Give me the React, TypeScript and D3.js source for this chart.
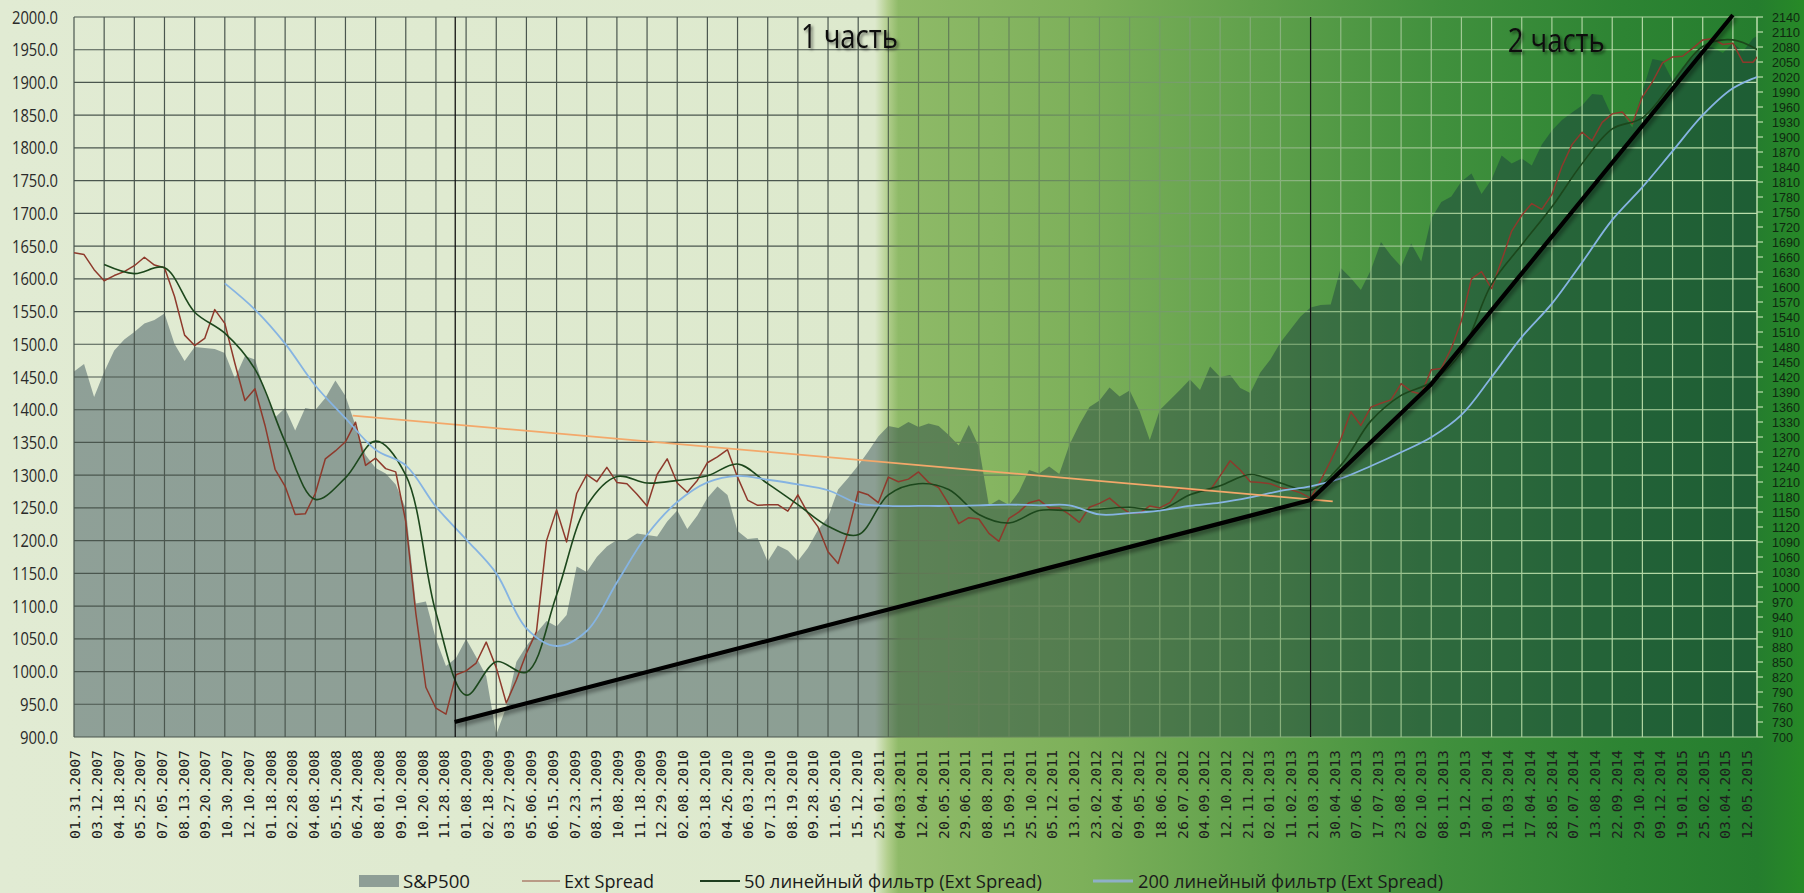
import React from "react";
import * as d3 from "d3";

const X_LABELS = ["01.31.2007","03.12.2007","04.18.2007","05.25.2007","07.05.2007","08.13.2007","09.20.2007","10.30.2007","12.10.2007","01.18.2008","02.28.2008","04.08.2008","05.15.2008","06.24.2008","08.01.2008","09.10.2008","10.20.2008","11.28.2008","01.08.2009","02.18.2009","03.27.2009","05.06.2009","06.15.2009","07.23.2009","08.31.2009","10.08.2009","11.18.2009","12.29.2009","02.08.2010","03.18.2010","04.26.2010","06.03.2010","07.13.2010","08.19.2010","09.28.2010","11.05.2010","15.12.2010","25.01.2011","04.03.2011","12.04.2011","20.05.2011","29.06.2011","08.08.2011","15.09.2011","25.10.2011","05.12.2011","13.01.2012","23.02.2012","02.04.2012","09.05.2012","18.06.2012","26.07.2012","04.09.2012","12.10.2012","21.11.2012","02.01.2013","11.02.2013","21.03.2013","30.04.2013","07.06.2013","17.07.2013","23.08.2013","02.10.2013","08.11.2013","19.12.2013","30.01.2014","11.03.2014","17.04.2014","28.05.2014","07.07.2014","13.08.2014","22.09.2014","29.10.2014","09.12.2014","19.01.2015","25.02.2015","03.04.2015","12.05.2015"];

const LEFT_TICKS = [900,950,1000,1050,1100,1150,1200,1250,1300,1350,1400,1450,1500,1550,1600,1650,1700,1750,1800,1850,1900,1950,2000];
const RIGHT_TICKS = [700,730,760,790,820,850,880,910,940,970,1000,1030,1060,1090,1120,1150,1180,1210,1240,1270,1300,1330,1360,1390,1420,1450,1480,1510,1540,1570,1600,1630,1660,1690,1720,1750,1780,1810,1840,1870,1900,1930,1960,1990,2020,2050,2080,2110,2140];

// S&P500 (right axis), one value every 1/3 of a grid column
const SP500 = [1431,1446,1380,1430,1473,1495,1510,1527,1534,1547,1486,1452,1480,1478,1476,1468,1417,1462,1455,1390,1339,1358,1313,1358,1354,1378,1413,1382,1323,1264,1238,1227,1205,1157,967,971,896,842,858,896,860,822,705,760,850,882,908,932,921,944,1041,1030,1060,1081,1094,1094,1107,1104,1101,1131,1153,1116,1143,1178,1201,1184,1112,1096,1098,1051,1083,1073,1052,1078,1114,1140,1195,1218,1243,1271,1301,1322,1318,1330,1320,1327,1322,1304,1283,1324,1281,1163,1175,1164,1191,1234,1227,1241,1226,1284,1325,1360,1373,1399,1381,1393,1351,1294,1354,1374,1394,1415,1394,1441,1420,1424,1398,1388,1429,1455,1489,1515,1541,1559,1564,1565,1638,1618,1594,1634,1690,1663,1641,1687,1651,1737,1770,1781,1811,1827,1786,1815,1863,1847,1857,1843,1885,1913,1934,1949,1963,1986,1984,1940,1947,1919,1991,2056,2052,2013,2040,2059,2082,2079,2068,2088,2071,2097,2110];

// Ext Spread (left axis), same sampling
const EXT_SPREAD = [1640,1637,1614,1597,1605,1611,1620,1633,1621,1617,1573,1514,1498,1509,1553,1532,1471,1414,1432,1376,1309,1283,1240,1241,1272,1325,1337,1351,1381,1315,1326,1310,1305,1229,1089,976,944,935,995,1001,1013,1045,1006,952,987,1028,1061,1200,1247,1198,1272,1301,1290,1312,1289,1287,1271,1253,1301,1325,1288,1274,1292,1319,1328,1339,1297,1262,1254,1255,1255,1245,1270,1242,1221,1183,1165,1214,1275,1270,1258,1297,1290,1294,1305,1289,1281,1256,1226,1235,1233,1211,1199,1234,1244,1258,1262,1250,1250,1240,1228,1251,1257,1265,1252,1242,1242,1253,1250,1258,1280,1278,1276,1277,1299,1322,1308,1290,1289,1287,1281,1278,1273,1265,1292,1322,1355,1397,1376,1404,1410,1415,1440,1428,1424,1461,1463,1494,1536,1600,1611,1585,1628,1673,1697,1715,1706,1729,1772,1805,1824,1811,1839,1852,1855,1837,1878,1901,1930,1939,1940,1952,1965,1967,1958,1960,1931,1931,1950];

// filters (left axis), one value per grid column
const FILTER_50 = [null,1622,1608,1617,1549,1517,1462,1351,1263,1296,1352,1300,1090,964,1015,999,1117,1253,1298,1288,1292,1299,1317,1287,1255,1222,1209,1270,1287,1278,1240,1227,1246,1246,1248,1251,1247,1270,1284,1301,1288,1277,1315,1383,1422,1442,1488,1592,1652,1710,1776,1829,1846,1900,1955,1965,1945];
const FILTER_200 = [null,null,null,null,null,1593,1553,1501,1437,1387,1339,1315,1252,1202,1150,1066,1039,1062,1136,1209,1259,1289,1299,1293,1286,1277,1257,1253,1253,1253,1254,1255,1254,1254,1240,1242,1246,1253,1258,1266,1276,1283,1295,1314,1335,1358,1392,1450,1511,1562,1625,1690,1740,1795,1850,1891,1912];
const FILTER_STEP = 3;

// annotations (sample index, left-axis value)
const TREND_BLACK = [[37.86, 923], [123, 1262], [135, 1439], [165, 2003]];
const TREND_ORANGE = [[27.72, 1391], [125.2, 1260]];
const PART_DIVIDERS = [37.92, 123];
const PART_LABELS = [["1 часть", 72.3, 1953], ["2 часть", 142.6, 1947]];

const LEGEND_NAMES = ["S&P500", "Ext Spread", "50 линейный фильтр (Ext Spread)", "200 линейный фильтр (Ext Spread)"];

export default function App() {
  const W = 1804, H = 893;
  const L = 74, R = 1757, T = 17, B = 737;
  const x = d3.scaleLinear().domain([0, 167.4]).range([L, R]);
  const yL = d3.scaleLinear().domain([900, 2000]).range([B, T]);
  const yR = d3.scaleLinear().domain([700, 2140]).range([B, T]);
  const xLab = d3.scalePoint().domain(X_LABELS).range([75, 1747]);

  const area = d3.area().x((_, i) => x(i)).y0(B).y1((d) => yR(d));
  const ext = d3.line().x((_, i) => x(i)).y((d) => yL(d));
  const filt = d3.line()
    .defined((d) => d != null)
    .x((_, i) => x(i * FILTER_STEP))
    .y((d) => yL(d))
    .curve(d3.curveCatmullRom.alpha(0.5));
  const trend = d3.line().x((d) => x(d[0])).y((d) => yL(d[1]));
  const gridX = d3.range(0, 166, FILTER_STEP);

  const font = "'Open Sans', 'Noto Sans', sans-serif";
  const legendY = 881;

  return (
    <svg width={W} height={H} style={{ position: "absolute", left: 0, top: 0, display: "block" }}>
      <defs>
        <linearGradient id="bg" gradientUnits="userSpaceOnUse" x1="0" y1="0" x2={W} y2="0">
          <stop offset="0" stopColor="#e1ebd3" />
          <stop offset="0.485" stopColor="#dde9cd" />
          <stop offset="0.492" stopColor="#b3cf8e" />
          <stop offset="0.498" stopColor="#8fba68" />
          <stop offset="0.6" stopColor="#7db05a" />
          <stop offset="0.7" stopColor="#5fa04b" />
          <stop offset="0.8" stopColor="#40903d" />
          <stop offset="0.9" stopColor="#2d8433" />
          <stop offset="0.974" stopColor="#257d2e" />
          <stop offset="1" stopColor="#278a27" />
        </linearGradient>
        <linearGradient id="grid" gradientUnits="userSpaceOnUse" x1="0" y1="0" x2={W} y2="0">
          <stop offset="0" stopColor="#4a564e" />
          <stop offset="0.485" stopColor="#4a564e" />
          <stop offset="0.5" stopColor="#5e7654" />
          <stop offset="0.62" stopColor="#6e9462" />
          <stop offset="0.75" stopColor="#93bd88" />
          <stop offset="0.85" stopColor="#a9d09c" />
          <stop offset="1" stopColor="#bde0ae" />
        </linearGradient>
        <clipPath id="plot">
          <rect x={L} y={T} width={R - L} height={B - T} />
        </clipPath>
        <filter id="shadow" x="-5%" y="-20%" width="115%" height="150%">
          <feDropShadow dx="2" dy="3" stdDeviation="2" floodColor="#000" floodOpacity="0.45" />
        </filter>
        <filter id="tshadow" x="-10%" y="-30%" width="130%" height="170%">
          <feDropShadow dx="2" dy="2" stdDeviation="1.6" floodColor="#000" floodOpacity="0.5" />
        </filter>
      </defs>

      <rect x={0} y={0} width={W} height={H} fill="url(#bg)" />

      <g clipPath="url(#plot)">
        <path d={area(SP500)} fill="rgb(20,47,63)" fillOpacity={0.4} />
      </g>

      {LEFT_TICKS.map((v) => (
        <line key={"h" + v} x1={L} x2={R} y1={yL(v)} y2={yL(v)} stroke="url(#grid)" strokeWidth={1.2} />
      ))}
      {gridX.map((t) => (
        <line key={"v" + t} x1={x(t)} x2={x(t)} y1={T} y2={B} stroke="url(#grid)" strokeWidth={1.2} />
      ))}

      <line x1={R} x2={R} y1={T} y2={B} stroke="#bcdcae" strokeWidth={1.5} />
      {RIGHT_TICKS.map((v) => (
        <line key={"rt" + v} x1={R} x2={R + 6} y1={yR(v)} y2={yR(v)} stroke="#bcdcae" strokeWidth={1.2} />
      ))}

      <g clipPath="url(#plot)">
        <path d={ext(EXT_SPREAD)} fill="none" stroke="#8e3a2c" strokeWidth={1.5} strokeLinejoin="round" />
        <path d={filt(FILTER_50)} fill="none" stroke="#1c471c" strokeWidth={1.6} />
        <path d={filt(FILTER_200)} fill="none" stroke="#86b4e2" strokeWidth={1.8} />
      </g>

      <path d={trend(TREND_ORANGE)} fill="none" stroke="#f3a86a" strokeWidth={1.8} />
      {PART_DIVIDERS.map((t) => (
        <line key={"d" + t} x1={x(t)} x2={x(t)} y1={T} y2={B} stroke="#111" strokeWidth={1.3} />
      ))}
      <path d={trend(TREND_BLACK)} fill="none" stroke="#000" strokeWidth={4.2} strokeLinejoin="round" filter="url(#shadow)" />

      {PART_LABELS.map(([txt, t, v]) => (
        <text key={txt} x={x(t)} y={yL(v)} fontFamily={font} fontSize={32} fill="#111" textLength={97} lengthAdjust="spacingAndGlyphs" filter="url(#tshadow)">
          {txt}
        </text>
      ))}

      {LEFT_TICKS.map((v) => {
        const s = v.toFixed(1);
        return (
          <text key={"lt" + v} x={58} y={yL(v) + 6.5} textAnchor="end" fontFamily={font} fontSize={18} fill="#2a2a2a" textLength={s.length === 6 ? 46 : 38} lengthAdjust="spacingAndGlyphs">
            {s}
          </text>
        );
      })}

      {RIGHT_TICKS.map((v) => {
        const s = String(v);
        return (
          <text key={"rl" + v} x={1772} y={yR(v) + 4.6} fontFamily="'Liberation Sans', Arial, sans-serif" fontSize={13} fill="#0f2810" textLength={s.length === 4 ? 28 : 21} lengthAdjust="spacingAndGlyphs">
            {s}
          </text>
        );
      })}

      {X_LABELS.map((lab) => (
        <text key={lab} transform={`translate(${xLab(lab)},750) rotate(-90)`} textAnchor="end" dy="0.35em" fontFamily="'DejaVu Sans Mono', monospace" fontSize={14.5} fill="#1e1e1e" textLength={89} lengthAdjust="spacingAndGlyphs">
          {lab}
        </text>
      ))}

      <g fontFamily={font} fontSize={18} fill="#1a1a1a">
        <rect x={359} y={legendY - 6} width={40} height={12} fill="#8e9e96" />
        <text x={403} y={legendY + 7} textLength={67} lengthAdjust="spacingAndGlyphs">{LEGEND_NAMES[0]}</text>
        <line x1={522} x2={560} y1={legendY} y2={legendY} stroke="#b99a86" strokeWidth={2} />
        <text x={564} y={legendY + 7} textLength={90} lengthAdjust="spacingAndGlyphs">{LEGEND_NAMES[1]}</text>
        <line x1={700} x2={740} y1={legendY} y2={legendY} stroke="#1e3d1e" strokeWidth={2} />
        <text x={744} y={legendY + 7} textLength={298} lengthAdjust="spacingAndGlyphs">{LEGEND_NAMES[2]}</text>
        <line x1={1093} x2={1133} y1={legendY} y2={legendY} stroke="#8fb0c8" strokeWidth={3} />
        <text x={1138} y={legendY + 7} textLength={305} lengthAdjust="spacingAndGlyphs">{LEGEND_NAMES[3]}</text>
      </g>
    </svg>
  );
}
